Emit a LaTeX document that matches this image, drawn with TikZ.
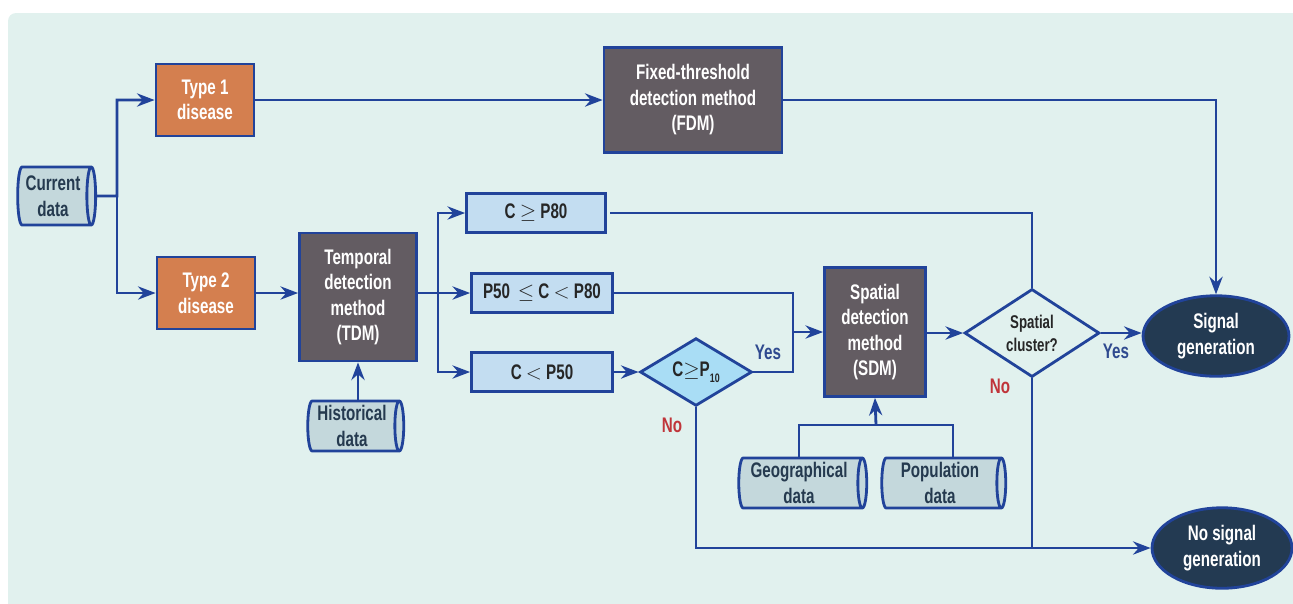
\documentclass[tikz,border=0pt]{standalone}
\usepackage{fontspec}
\setmainfont{Liberation Sans}[FakeStretch=0.72]
\usetikzlibrary{shapes.geometric,arrows.meta}
\definecolor{bgc}{HTML}{E1F1EE}
\definecolor{lnc}{HTML}{21439A}
\definecolor{orc}{HTML}{D47F4F}
\definecolor{dkc}{HTML}{635C62}
\definecolor{ltc}{HTML}{C3DDF1}
\definecolor{cyc}{HTML}{C4D8DC}
\definecolor{dic}{HTML}{A9DDF5}
\definecolor{elc}{HTML}{233A52}
\definecolor{txc}{HTML}{253A4F}
\definecolor{noc}{HTML}{C0353A}
\definecolor{yec}{HTML}{2F4A8F}

\begin{document}
\begin{tikzpicture}[x=0.02cm,y=-0.02cm,draw=lnc,line width=1.6pt,>={Stealth[length=10pt,width=7.5pt]},font=\fontsize{12}{14.5}\selectfont\bfseries]
	\tikzstyle{box}=[rectangle,draw=lnc,align=center,inner sep=2pt]
	\tikzstyle{type}=[box,fill=orc,text=white,minimum width=1.96cm,minimum height=1.44cm]
	\tikzstyle{meth}=[box,fill=dkc,text=white]
	\tikzstyle{cond}=[box,fill=ltc,text=black!85,minimum height=0.78cm]
	\tikzstyle{data}=[cylinder,draw=lnc,fill=cyc,text=txc,align=center,shape aspect=0.2,inner sep=1pt]
	\tikzstyle{dec}=[diamond,draw=lnc,align=center,inner sep=0pt]
	\tikzstyle{endnode}=[ellipse,draw=lnc,fill=elc,text=white,align=center]
	\tikzstyle{ylab}=[text=yec]
	\tikzstyle{nlab}=[text=noc]

\useasboundingbox (0,0) rectangle (1293,603);
\fill[bgc,rounded corners=0.16cm] (8,13) rectangle (1310,620);

% inputs and disease types
\node[data,minimum width=1.16cm,minimum height=1.56cm](cur) at (53,196){Current\\data};
\node[type](t1) at (205,100){Type 1\\disease};
\node[type](t2) at (206,293){Type 2\\disease};

% detection methods
\node[meth,minimum width=3.56cm,minimum height=2.1cm](fdm) at (693,100){Fixed-threshold\\detection method\\(FDM)};
\node[meth,minimum width=2.34cm,minimum height=2.56cm](tdm) at (358,297){Temporal\\detection\\method\\(TDM)};
\node[data,minimum width=1cm,minimum height=1.92cm](hist) at (352,426){Historical\\data};

% thresholds
\node[cond,minimum width=2.78cm](hi) at (536,213){C $\geq$ P80};
\node[cond,minimum width=2.82cm](mid) at (542,293){P50 \,$\leq$ C $<$ P80};
\node[cond,minimum width=2.82cm](lo) at (542,372){C $<$ P50};
\node[dec,fill=dic,minimum width=2.24cm,minimum height=1.32cm,text=black!85](dp) at (696,372){C$\geq$P\raisebox{-0.5ex}{\scriptsize 10}};

% spatial part
\node[meth,minimum width=2.02cm,minimum height=2.58cm](sdm) at (875,332){Spatial\\detection\\method\\(SDM)};
\node[data,minimum width=1cm,minimum height=2.56cm](geo) at (799,483){Geographical\\data};
\node[data,minimum width=1cm,minimum height=2.48cm](pop) at (940,483){Population\\data};
\node[dec,minimum width=2.7cm,minimum height=1.72cm,font=\fontsize{10.5}{13}\selectfont\bfseries,text=black!85](sc) at (1032,333){Spatial\\cluster?};

% outcomes
\node[endnode,minimum width=2.92cm,minimum height=1.3cm](sig) at (1216,336){Signal\\generation};
\node[endnode,minimum width=2.8cm,minimum height=1.28cm](nosig) at (1222,548){No signal\\generation};

\node[ylab](y1) at (768,352){Yes};
\node[ylab](y2) at (1116,351){Yes};
\node[nlab](n1) at (672,425){No};
\node[nlab](n2) at (1000,386){No};

\coordinate (split1) at (117,196);
\coordinate (split2) at (438,293);
\coordinate (join) at (793,332);
\coordinate (gp) at (876,425);

\draw[->] (cur.east) -- (split1) |- (t1.west);
\draw[->] (split1) |- (t2.west);
\draw[->] (t1) -- (fdm);
\draw[->] (fdm.east) -| (sig.north);
\draw[->] (t2.east) -- (t2.east -| tdm.west);
\draw[->] (tdm.east |- split2) -- (mid.west);
\draw[->] (split2) |- (hi.west);
\draw[->] (split2) |- (lo.west);
\draw[->] (hist.north -| tdm.south) -- (tdm.south);
\draw[shorten <=2pt] (hi.east) -| (sc.north);
\draw[->] (mid.east) -| (join) -- (sdm.west);
\draw[->] (lo) -- (dp);
\draw (dp.east) -| (join);
\draw[->] (dp.south) |- (nosig.west);
\draw[->] (sdm.east |- sc.west) -- (sc.west);
\draw[->] (sc.east) -- (sc.east -| sig.west);
\draw (sc.south) -- (sc.south |- nosig.west);
\draw (geo.north) |- (gp) -| ([xshift=0.26cm]pop.north);
\draw[->] (gp) -- (sdm.south);

\end{tikzpicture}
\end{document}
